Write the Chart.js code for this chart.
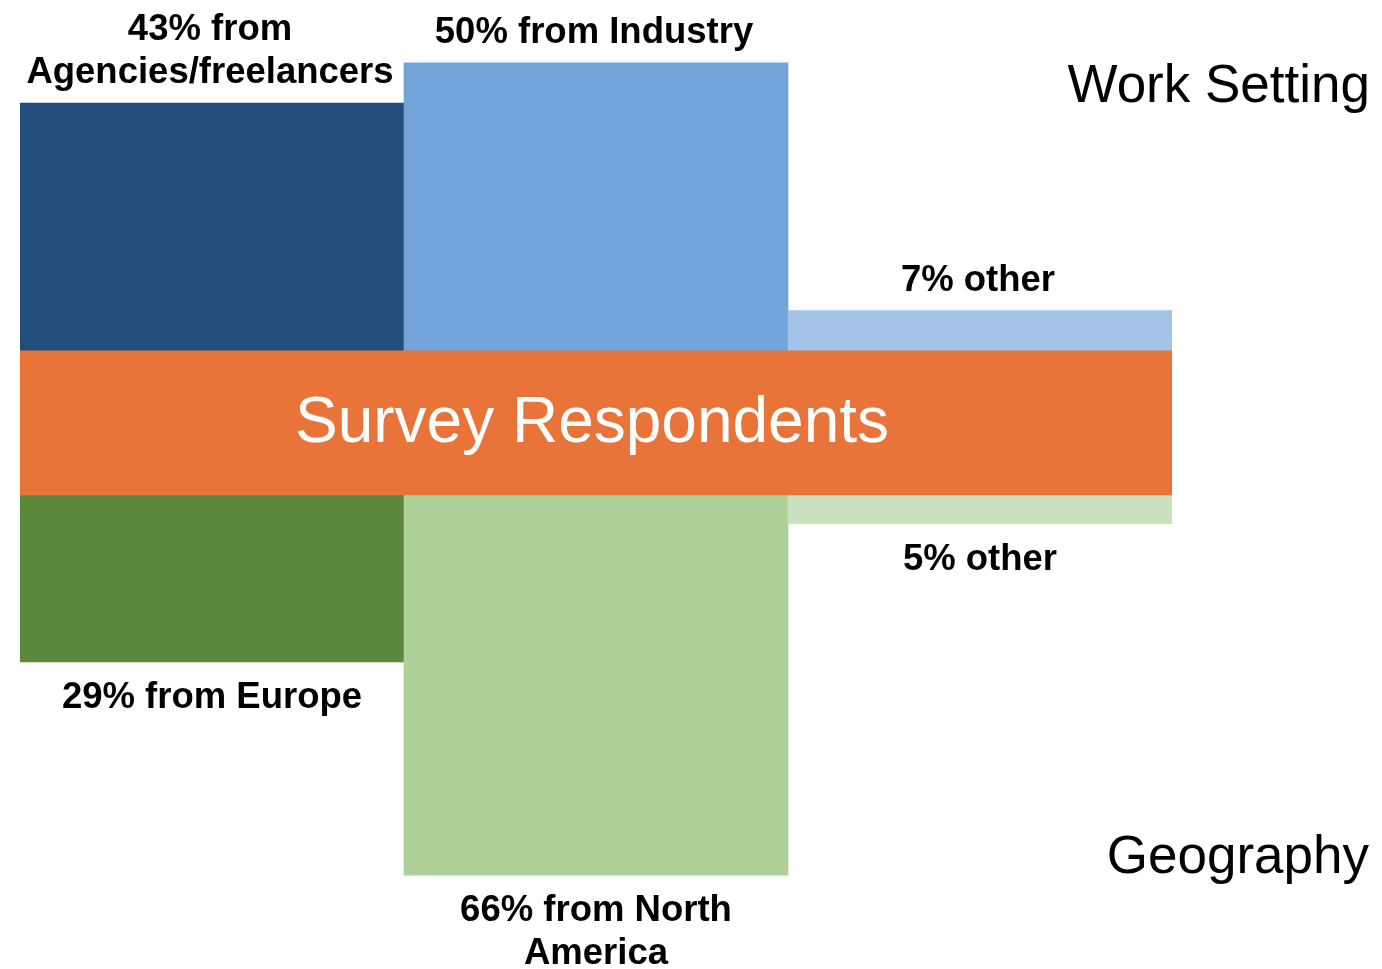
<!DOCTYPE html>
<html>
<head>
<meta charset="utf-8">
<title>Survey Respondents</title>
<script src="https://cdn.jsdelivr.net/npm/chart.js@4/dist/chart.umd.min.js"></script>
<style>
  html, body { margin: 0; padding: 0; background: #fff; }
  .wrap { position: relative; width: 1382px; height: 969px; }
</style>
</head>
<body>
<div class="wrap"><canvas id="surveyChart"></canvas></div>
<script>
// Data
const columns = ["col1", "col2", "col3"];
const workSetting = [43, 50, 7];
const workLabels = [["43% from", "Agencies/freelancers"], ["50% from Industry"], ["7% other"]];
const geography = [29, 66, 5];
const geoLabels = [["29% from Europe"], ["66% from North", "America"], ["5% other"]];

const bandHalf = 12.5; // half height of the centre band, in % units
const workColors = ["#234D7B", "#73A4D9", "#A3C2E7"];
const geoColors = ["#5A893D", "#AED199", "#C9E1BF"];
const bandColor = "#E8743A";
const FONT = '"Liberation Sans", Arial, sans-serif';

// Draw the text labels next to the bars
const labelPlugin = {
    id: "barLabels",
    afterDatasetsDraw(chart) {
        const ctx = chart.ctx;
        const area = chart.chartArea;
        ctx.save();
        ctx.fillStyle = "#000";
        ctx.textAlign = "center";
        ctx.textBaseline = "alphabetic";
        ctx.font = "bold 36.5px " + FONT;

        // top labels, last line sits above the bar
        chart.getDatasetMeta(1).data.forEach((bar, i) => {
            const lines = workLabels[i];
            lines.forEach((line, j) => {
                const y = bar.y - 20 - (lines.length - 1 - j) * 43;
                ctx.fillText(line, bar.x - 2, y);
            });
        });
        // bottom labels, below the bar
        chart.getDatasetMeta(2).data.forEach((bar, i) => {
            geoLabels[i].forEach((line, j) => {
                ctx.fillText(line, bar.x, bar.y + 46 + j * 43);
            });
        });

        // centre band text
        const zero = chart.scales.y.getPixelForValue(0);
        ctx.fillStyle = "#fff";
        ctx.font = "64px " + FONT;
        ctx.fillText("Survey Respondents", (area.left + area.right) / 2 - 4, zero + 19);

        // side titles
        ctx.fillStyle = "#000";
        ctx.textAlign = "right";
        ctx.font = "53px " + FONT;
        ctx.fillText("Work Setting", 1370, 102);
        ctx.fillText("Geography", 1369, 873);
        ctx.restore();
    }
};

const surveyChart = new Chart(document.getElementById("surveyChart"), {
    type: "bar",
    data: {
        labels: columns,
        datasets: [
            {
                label: "Survey Respondents",
                data: columns.map(() => [-bandHalf, bandHalf]),
                backgroundColor: bandColor
            },
            {
                label: "Work Setting",
                data: workSetting.map(v => [bandHalf, bandHalf + v]),
                backgroundColor: workColors
            },
            {
                label: "Geography",
                data: geography.map(v => [-bandHalf, -bandHalf - v]),
                backgroundColor: geoColors
            }
        ]
    },
    options: {
        responsive: true,
        maintainAspectRatio: false,
        animation: false,
        layout: { padding: { left: 20, right: 210, top: 0, bottom: 0 } },
        datasets: {
            bar: {
                grouped: false,
                barPercentage: 1,
                categoryPercentage: 1,
                borderWidth: 0,
                borderSkipped: false
            }
        },
        plugins: {
            legend: { display: false },
            tooltip: { enabled: false }
        },
        scales: {
            x: { display: false },
            y: { display: false, min: -94.8, max: 73.4 }
        }
    },
    plugins: [labelPlugin]
});
</script>
</body>
</html>
